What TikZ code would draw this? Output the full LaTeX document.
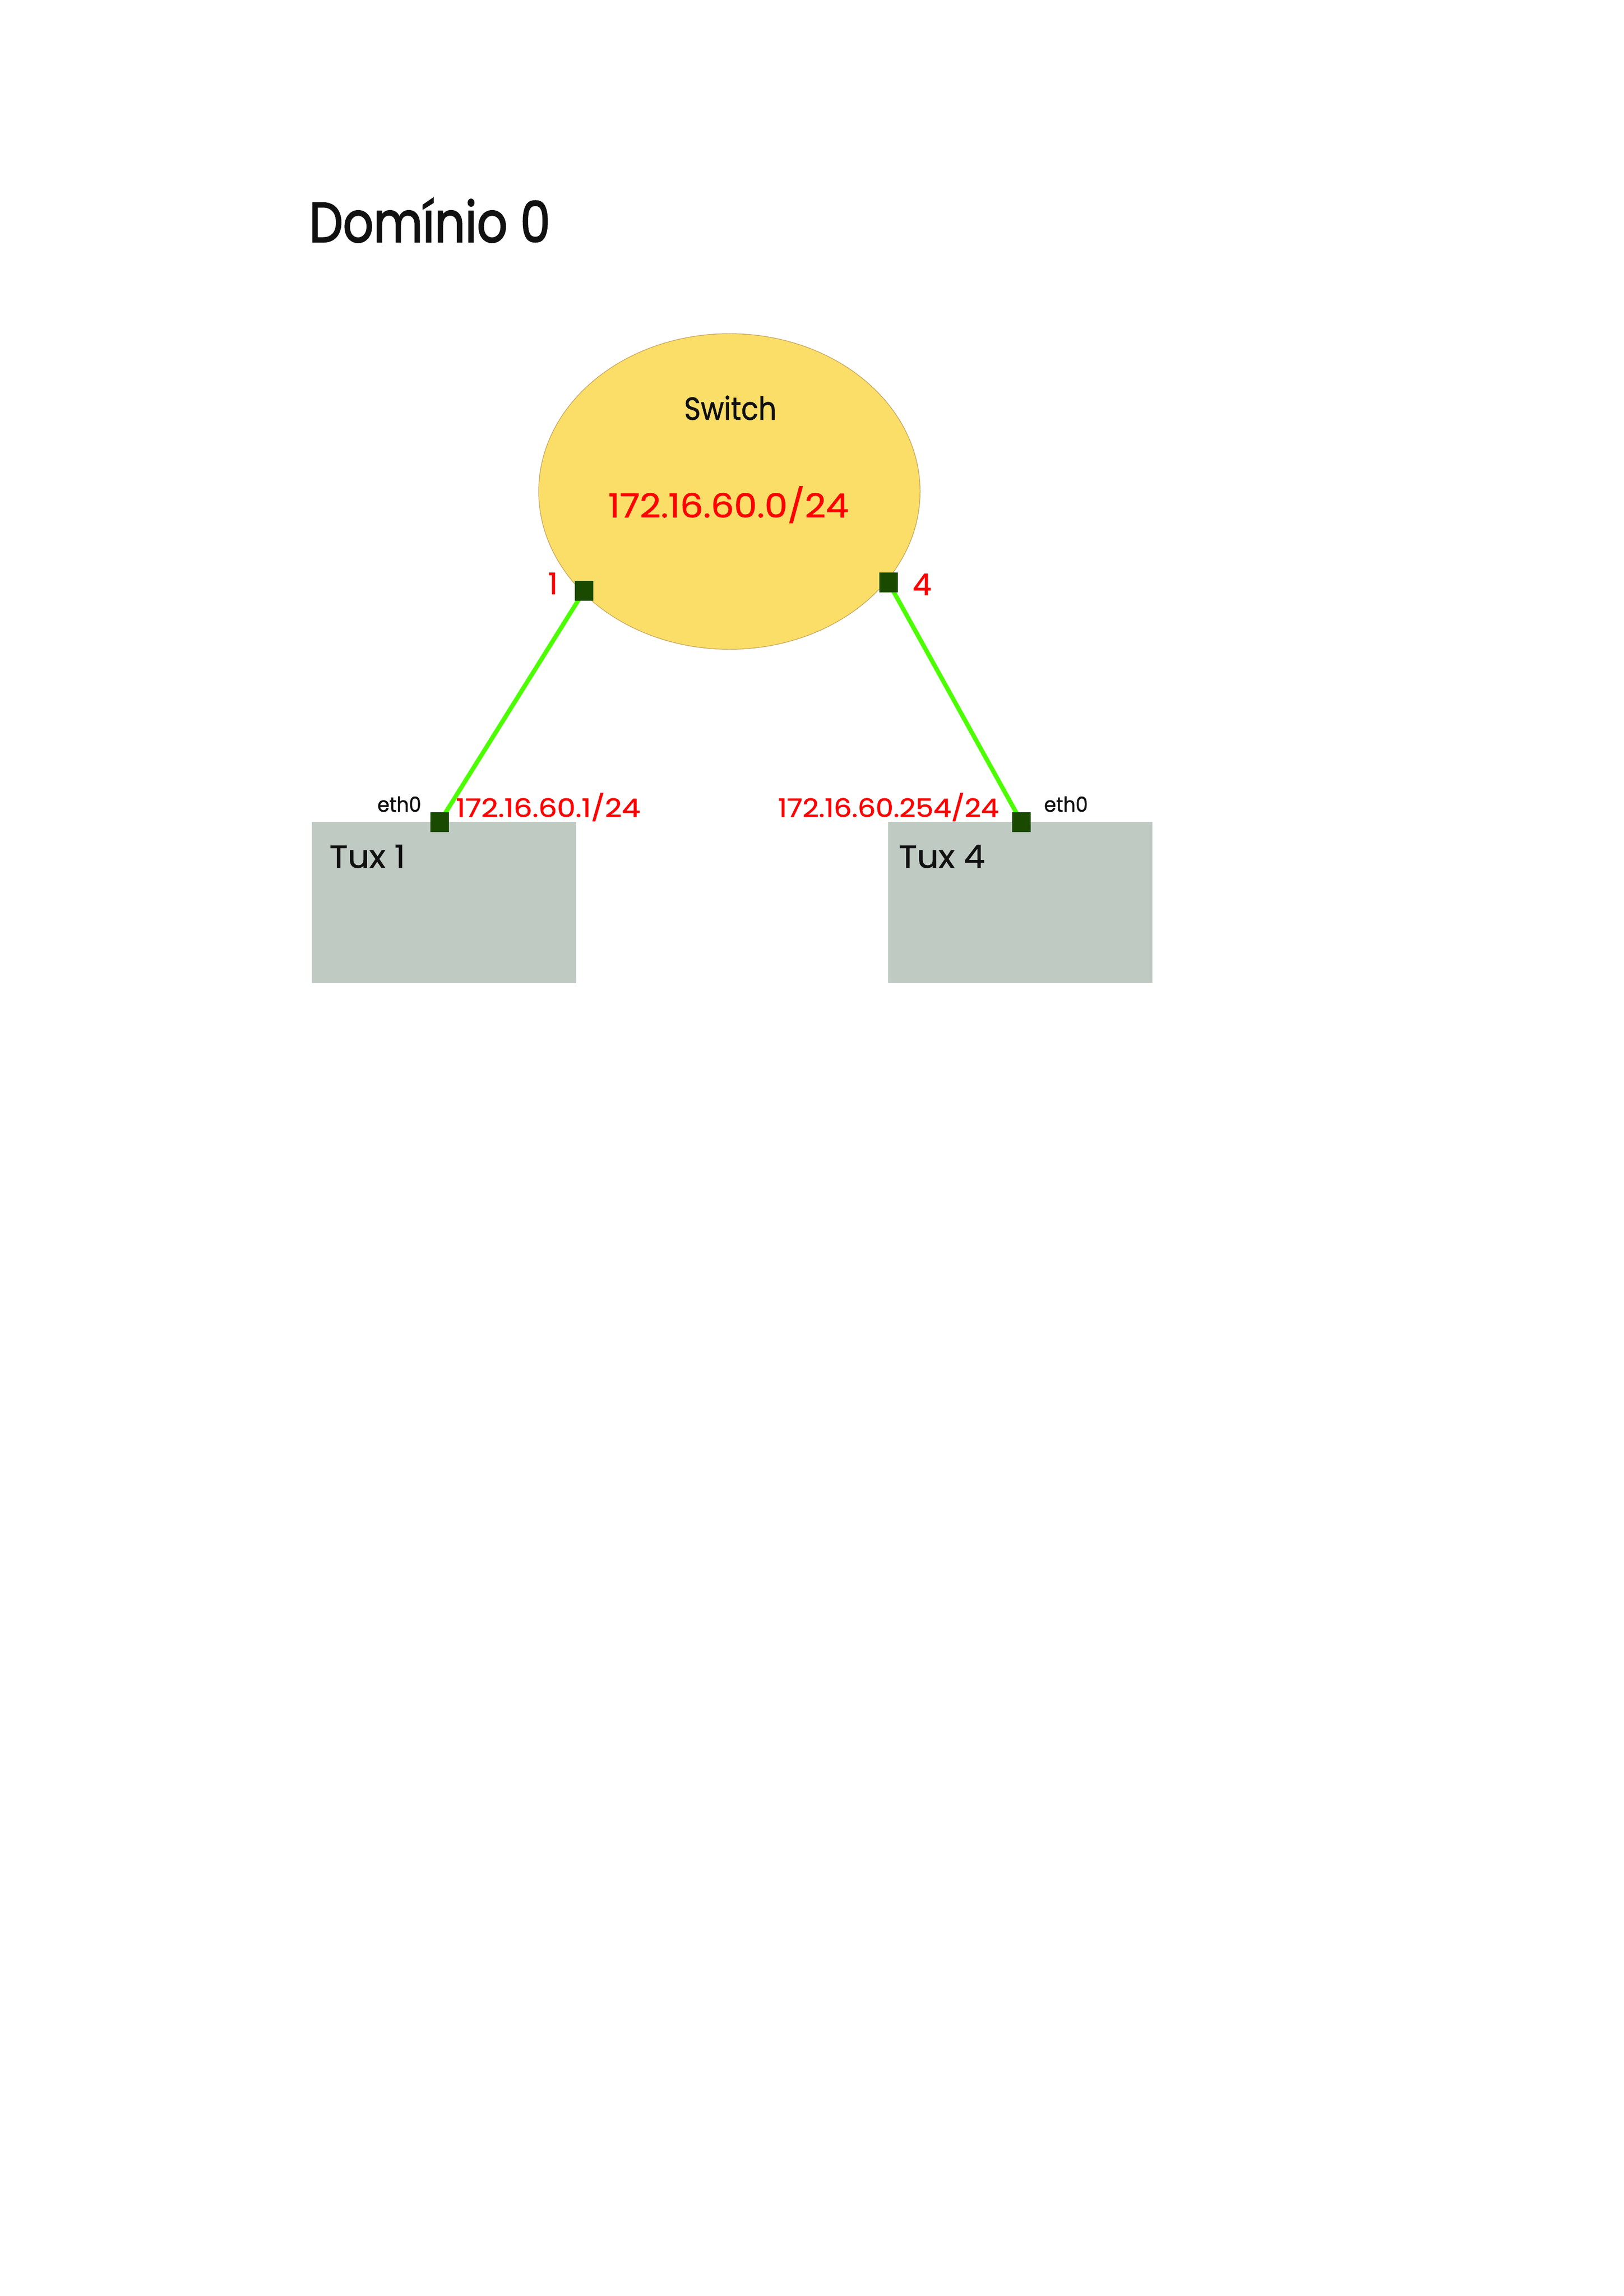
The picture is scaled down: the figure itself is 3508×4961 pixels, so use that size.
\documentclass[tikz,border=0pt]{standalone}
\usepackage{fontspec}
\usepackage{graphicx}
\setmainfont{Poppins}[FakeBold=1.2]
\newfontfamily\titlefont{Poppins}[FakeBold=2.2]
\usetikzlibrary{shapes.geometric,backgrounds}
\definecolor{swfill}{HTML}{FBDE68}
\definecolor{swline}{HTML}{C8A860}
\definecolor{boxfill}{HTML}{BFCAC3}
\definecolor{portc}{HTML}{1A4A00}
\definecolor{linkc}{HTML}{4CFF00}
\definecolor{ipred}{HTML}{FF0000}
\definecolor{txt}{HTML}{111111}
\newdimen\pu \pu=0.05986mm
\newcommand{\sx}[2]{\scalebox{#1}[1]{#2}}
\begin{document}
\begin{tikzpicture}[x=0.05986mm,y=-0.05986mm,
  every node/.style={inner sep=0pt, outer sep=0pt},
  swnode/.style={ellipse, fill=swfill, draw=swline, line width=0.25pt, minimum width=824\pu, minimum height=682\pu},
  tuxbox/.style={rectangle, fill=boxfill, minimum width=571\pu, minimum height=348\pu, anchor=north west},
  port/.style={rectangle, fill=portc, minimum width=40\pu, minimum height=43\pu},
  link/.style={draw=linkc, line width=1.6pt},
  title/.style={text=txt, font=\titlefont\fontsize{20.7}{24}\selectfont},
  lbl/.style={text=txt, font=\fontsize{11.7}{14}\selectfont},
  redbig/.style={text=ipred, font=\fontsize{12.2}{14}\selectfont},
  portnum/.style={text=ipred, font=\fontsize{11}{13}\selectfont},
  ethlbl/.style={text=txt, font=\fontsize{7.6}{9}\selectfont},
  ipsmall/.style={text=ipred, font=\fontsize{9.3}{11}\selectfont}]
\useasboundingbox (0,0) rectangle (3508,4961);
\begin{scope}[on background layer]
\fill[white] (0,0) rectangle (3508,4961);
\node[swnode] (sw) at (1576,1062) {};
\node[tuxbox] (t1) at (674,1776) {};
\node[tuxbox] (t4) at (1919,1776) {};
\end{scope}
\node[title, anchor=base west] (ttl) at (668,523) {\sx{0.85}{Domínio 0}};
\node[lbl, anchor=base] (swl) at (1578,907) {\sx{0.89}{Switch}};
\node[redbig, anchor=base] (net) at (1574,1118) {\sx{1.1}{172.16.60.0/24}};
\node[port] (p1) at (1262,1277) {};
\node[port] (p4) at (1920,1259) {};
\node[port] (e1) at (950,1776) {};
\node[port] (e4) at (2207,1776) {};
\node[portnum, anchor=base east] (n1) at (1205,1284) {1};
\node[portnum, anchor=base west] (n4) at (1972,1286) {4};
\node[ethlbl, anchor=base east] (eth1) at (910,1754) {\sx{0.94}{eth0}};
\node[ethlbl, anchor=base west] (eth4) at (2256,1754) {\sx{0.94}{eth0}};
\node[ipsmall, anchor=base west] (ip1) at (985,1765) {\sx{1.16}{172.16.60.1/24}};
\node[ipsmall, anchor=base east] (ip4) at (2158,1765) {\sx{1.12}{172.16.60.254/24}};
\node[lbl, anchor=base west] (tl1) at (712,1875) {\sx{1.06}{Tux 1}};
\node[lbl, anchor=base west] (tl4) at (1942,1875) {\sx{1.06}{Tux 4}};
\begin{scope}[on background layer]
\draw[link] (p1.center) -- (e1.center);
\draw[link] (p4.center) -- (e4.center);
\end{scope}
\end{tikzpicture}
\end{document}
